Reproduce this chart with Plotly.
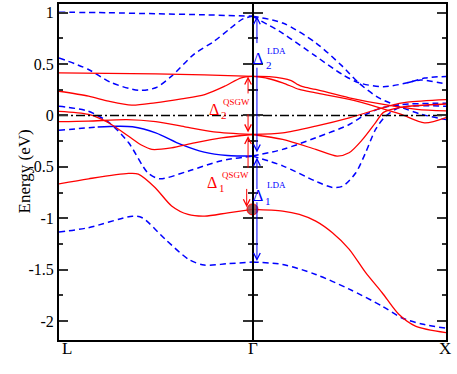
import plotly.graph_objects as go

# -----------------------------------------------------------------------------
# Données (k : L = 0, Gamma = 1, X = 2 ; énergies en eV)
# -----------------------------------------------------------------------------
kpoint_labels = ["L", "Γ", "X"]
kpoint_pos = [0, 1, 2]

energy_ticks = [1, 0.5, 0, -0.5, -1, -1.5, -2]
energy_tick_text = ["1", "0.5", "0", "-0.5", "-1", "-1.5", "-2"]
fermi_k = [0, 2]
fermi_e = [0, 0]

# LDA (bleu, tirets) : L -> Gamma
k_lda_l1 = [0, 0.25, 0.5, 0.75, 1]
e_lda_l1 = [1.005, 1.0, 0.99, 0.98, 0.966]
k_lda_l2 = [0, 0.15, 0.27, 0.41, 0.5, 0.58, 0.7, 0.8, 0.88, 0.95, 1]
e_lda_l2 = [0.56, 0.45, 0.32, 0.246, 0.27, 0.38, 0.60, 0.72, 0.84, 0.94, 0.966]
k_lda_l3 = [0, 0.15, 0.26, 0.36, 0.46, 0.52, 0.67, 0.84, 1]
e_lda_l3 = [0.09, 0.042, -0.071, -0.266, -0.56, -0.616, -0.54, -0.44, -0.395]
k_lda_l4 = [0, 0.1, 0.2, 0.3, 0.38, 0.5, 0.63, 0.75, 0.87, 1]
e_lda_l4 = [-0.143, -0.128, -0.112, -0.105, -0.11, -0.169, -0.282, -0.357, -0.389, -0.395]
k_lda_l5 = [0, 0.15, 0.38, 0.43, 0.55, 0.67, 0.75, 0.87, 1]
e_lda_l5 = [-1.135, -1.093, -0.98, -0.995, -1.206, -1.40, -1.456, -1.443, -1.427]

# LDA : Gamma -> X
k_lda_r1 = [1, 1.156, 1.327, 1.464, 1.553, 1.658, 1.766, 1.87, 2]
e_lda_r1 = [0.966, 0.90, 0.707, 0.48, 0.31, 0.166, 0.082, 0.013, -0.04]
k_lda_r2 = [1, 1.156, 1.327, 1.464, 1.55, 1.677, 1.80, 1.89, 2]
e_lda_r2 = [0.966, 0.80, 0.577, 0.40, 0.318, 0.28, 0.318, 0.364, 0.38]
k_lda_r2b = [1.80, 1.87, 2]
e_lda_r2b = [0.318, 0.345, 0.306]
k_lda_r3 = [1, 1.156, 1.327, 1.5, 1.585, 1.67, 1.77, 2]
e_lda_r3 = [-0.395, -0.33, -0.217, -0.088, 0.01, 0.075, 0.107, 0.12]
k_lda_r4 = [1, 1.156, 1.327, 1.413, 1.464, 1.533, 1.585, 1.636, 1.688, 1.756, 1.859, 2]
e_lda_r4 = [-0.395, -0.49, -0.64, -0.70, -0.69, -0.56, -0.36, -0.136, -0.007, 0.075, 0.095, 0.09]
k_lda_r5 = [1, 1.156, 1.327, 1.5, 1.67, 1.77, 1.875, 2]
e_lda_r5 = [-1.427, -1.45, -1.547, -1.69, -1.855, -1.968, -2.03, -2.07]

# QSGW (rouge, plein) : L -> Gamma
k_gw_l1 = [0, 0.25, 0.5, 0.75, 1]
e_gw_l1 = [0.415, 0.41, 0.405, 0.395, 0.38]
k_gw_l2 = [0, 0.153, 0.256, 0.376, 0.496, 0.633, 0.753, 0.856, 0.942, 1]
e_gw_l2 = [0.236, 0.188, 0.139, 0.10, 0.123, 0.162, 0.204, 0.285, 0.367, 0.38]
k_gw_l3 = [0, 0.153, 0.256, 0.358, 0.428, 0.48, 0.58, 0.70, 0.84, 1]
e_gw_l3 = [0.04, 0.01, -0.071, -0.2, -0.29, -0.33, -0.315, -0.266, -0.217, -0.185]
k_gw_l4 = [0, 0.15, 0.35, 0.5, 0.65, 0.8, 1]
e_gw_l4 = [-0.06, -0.055, -0.04, -0.06, -0.11, -0.16, -0.185]
k_gw_l5 = [0, 0.153, 0.359, 0.41, 0.496, 0.582, 0.667, 0.753, 0.873, 1]
e_gw_l5 = [-0.665, -0.616, -0.564, -0.57, -0.70, -0.88, -0.963, -0.98, -0.947, -0.914]

# QSGW : Gamma -> X
k_gw_r1 = [1, 1.087, 1.2, 1.235, 1.26, 1.327, 1.5, 1.7, 1.85, 2]
e_gw_r1 = [0.38, 0.378, 0.34, 0.30, 0.28, 0.253, 0.172, 0.10, 0.06, 0.045]
k_gw_r2 = [1, 1.08, 1.156, 1.242, 1.327, 1.5, 1.65, 1.766, 1.889, 2]
e_gw_r2 = [0.38, 0.36, 0.318, 0.253, 0.22, 0.156, 0.08, 0.013, -0.071, -0.02]
k_gw_r3 = [1, 1.156, 1.327, 1.5, 1.712, 1.80, 2]
e_gw_r3 = [-0.185, -0.17, -0.104, -0.023, 0.097, 0.13, 0.155]
k_gw_r4 = [1, 1.156, 1.327, 1.437, 1.499, 1.569, 1.636, 1.677, 1.766, 2]
e_gw_r4 = [-0.185, -0.233, -0.33, -0.395, -0.363, -0.233, -0.07, 0.03, 0.08, 0.112]
k_gw_r5 = [1, 1.156, 1.242, 1.327, 1.413, 1.499, 1.585, 1.67, 1.756, 1.842, 2]
e_gw_r5 = [-0.914, -0.93, -0.963, -1.028, -1.141, -1.30, -1.53, -1.725, -1.935, -2.05, -2.114]

# Gaps at Gamma (valeurs aux bornes des flèches)
gap_lda_top = 0.966
gap_lda_mid = -0.395
gap_lda_bot = -1.427
gap_gw_top = 0.38
gap_gw_mid = -0.185
gap_gw_bot = -0.914

RED = "#ff0000"
BLUE = "#0000ff"
FONT = "Liberation Serif, Times New Roman, Times, serif"
E_RANGE = [-2.185, 1.085]

fig = go.Figure()


def ajouter_bande(k, e, color, dash, width=1.4):
    fig.add_trace(
        go.Scatter(
            x=k, y=e, mode="lines", hoverinfo="skip", showlegend=False,
            line=dict(color=color, width=width, dash=dash, shape="spline", smoothing=0.8),
        )
    )


# ligne de Fermi (sur l'axe Gamma pour qu'il soit dessiné)
fig.add_trace(
    go.Scatter(
        x=fermi_k, y=fermi_e, mode="lines", yaxis="y2", hoverinfo="skip",
        showlegend=False, line=dict(color="black", width=1.5, dash="9px,3px,2px,3px"),
    )
)

for k, e in [(k_lda_l1, e_lda_l1), (k_lda_l2, e_lda_l2), (k_lda_l3, e_lda_l3),
             (k_lda_l5, e_lda_l5), (k_lda_r1, e_lda_r1), (k_lda_r2, e_lda_r2),
             (k_lda_r2b, e_lda_r2b), (k_lda_r3, e_lda_r3), (k_lda_r4, e_lda_r4),
             (k_lda_r5, e_lda_r5)]:
    ajouter_bande(k, e, BLUE, "6px,4px", 1.5)

# bande LDA en tirets puis en trait plein vers Gamma
ajouter_bande(k_lda_l4[:3], e_lda_l4[:3], BLUE, "6px,4px", 1.5)
ajouter_bande(k_lda_l4[2:], e_lda_l4[2:], BLUE, "solid", 1.4)

for k, e in [(k_gw_l1, e_gw_l1), (k_gw_l2, e_gw_l2), (k_gw_l3, e_gw_l3),
             (k_gw_l4, e_gw_l4), (k_gw_l5, e_gw_l5), (k_gw_r1, e_gw_r1),
             (k_gw_r2, e_gw_r2), (k_gw_r3, e_gw_r3), (k_gw_r4, e_gw_r4),
             (k_gw_r5, e_gw_r5)]:
    ajouter_bande(k, e, RED, "solid", 1.3)

# point marqué en Gamma
fig.add_trace(
    go.Scatter(
        x=[kpoint_pos[1]], y=[gap_gw_bot], mode="markers", yaxis="y3",
        hoverinfo="skip", showlegend=False,
        marker=dict(size=11, color="rgba(150,70,70,0.85)", line=dict(color=RED, width=1)),
    )
)

# -----------------------------------------------------------------------------
# Flèches (coupées là où passent les étiquettes)
# -----------------------------------------------------------------------------
annotations = []


def fleche(k, e_tete, e_queue, color):
    annotations.append(dict(
        x=k, y=e_tete, ax=k, ay=e_queue, xref="x", yref="y", axref="x", ayref="y",
        text="", showarrow=True, arrowhead=5, arrowsize=1.3, arrowwidth=1,
        arrowcolor=color,
    ))


fleche(1.023, gap_lda_top, 0.69, BLUE)
fleche(1.023, gap_lda_mid + 0.035, 0.48, BLUE)
fleche(1.023, gap_lda_mid - 0.015, -0.73, BLUE)
fleche(1.023, gap_lda_bot + 0.01, -0.83, BLUE)
fleche(0.977, gap_gw_top, 0.20, RED)
fleche(0.977, gap_gw_mid + 0.02, 0.026, RED)
fleche(0.977, gap_gw_mid - 0.015, -0.525, RED)
fleche(0.970, gap_gw_bot + 0.02, -0.70, RED)


def texte(k, e, txt, color, size):
    annotations.append(dict(
        x=k, y=e, xref="x", yref="y", text=txt, showarrow=False,
        xanchor="left", yanchor="middle", borderpad=0,
        font=dict(family=FONT, size=size, color=color),
    ))


# Delta_2 LDA
texte(0.998, 0.555, "Δ", BLUE, 16)
texte(1.062, 0.49, "2", BLUE, 11)
texte(1.068, 0.632, "LDA", BLUE, 9)
# Delta_1 LDA
texte(0.998, -0.78, "Δ", BLUE, 16)
texte(1.057, -0.83, "1", BLUE, 11)
texte(1.068, -0.68, "LDA", BLUE, 9)
# Delta_2 QSGW
texte(0.77, 0.054, "Δ", RED, 16)
texte(0.833, 0.0, "2", RED, 11)
texte(0.84, 0.136, "QSGW", RED, 9)
# Delta_1 QSGW
texte(0.76, -0.652, "Δ", RED, 16)
texte(0.823, -0.71, "1", RED, 11)
texte(0.835, -0.579, "QSGW", RED, 9)

# étiquettes des points k
decalages = [8, 0, -1]
for lab, pos, dx in zip(kpoint_labels, kpoint_pos, decalages):
    annotations.append(dict(
        x=pos, y=0, xref="x", yref="paper", yshift=-20, xshift=dx, text=lab,
        showarrow=False, font=dict(family=FONT, size=17, color="black"),
    ))

# titre de l'axe des énergies
annotations.append(dict(
    x=0, y=0.5, xref="paper", yref="paper", xshift=-47, text="Energy (eV)",
    textangle=-90, showarrow=False, font=dict(family=FONT, size=17, color="black"),
))

axe_gamma = dict(
    range=E_RANGE, overlaying="y", anchor="free", position=0.5, automargin=False,
    showline=True, linecolor="black", linewidth=2, showgrid=False, zeroline=False,
    tickvals=energy_ticks, showticklabels=False, ticklen=9, tickwidth=2, tickcolor="#333",
    minor=dict(dtick=0.25, ticklen=4, tickwidth=1.5, tickcolor="#333"),
)

fig.update_layout(
    template="none",
    width=457, height=374,
    margin=dict(l=59, r=11, t=4, b=34),
    paper_bgcolor="white", plot_bgcolor="white",
    font=dict(family=FONT, color="black"),
    xaxis=dict(
        range=[0, 2], showline=True, mirror=True, linecolor="black", linewidth=2,
        showgrid=False, zeroline=False, ticks="", showticklabels=False, automargin=False,
    ),
    yaxis=dict(
        range=E_RANGE, showline=True, mirror="ticks", linecolor="black",
        linewidth=2, showgrid=False, zeroline=False, automargin=False,
        tickvals=energy_ticks, ticktext=energy_tick_text, ticks="inside",
        ticklen=9, tickwidth=2, tickcolor="#333",
        minor=dict(dtick=0.25, ticks="inside", ticklen=4, tickwidth=1.5, tickcolor="#333"),
        tickfont=dict(family=FONT, size=16, color="black"),
    ),
    yaxis2=dict(axe_gamma, ticks="outside", minor=dict(axe_gamma["minor"], ticks="outside")),
    yaxis3=dict(axe_gamma, ticks="inside", minor=dict(axe_gamma["minor"], ticks="inside")),
    annotations=annotations,
)

# la page garde sinon la marge de 8 px du navigateur
fig.write_html(
    "out.html",
    config={"displayModeBar": False},
    post_script="document.body.style.margin = '0';",
)
